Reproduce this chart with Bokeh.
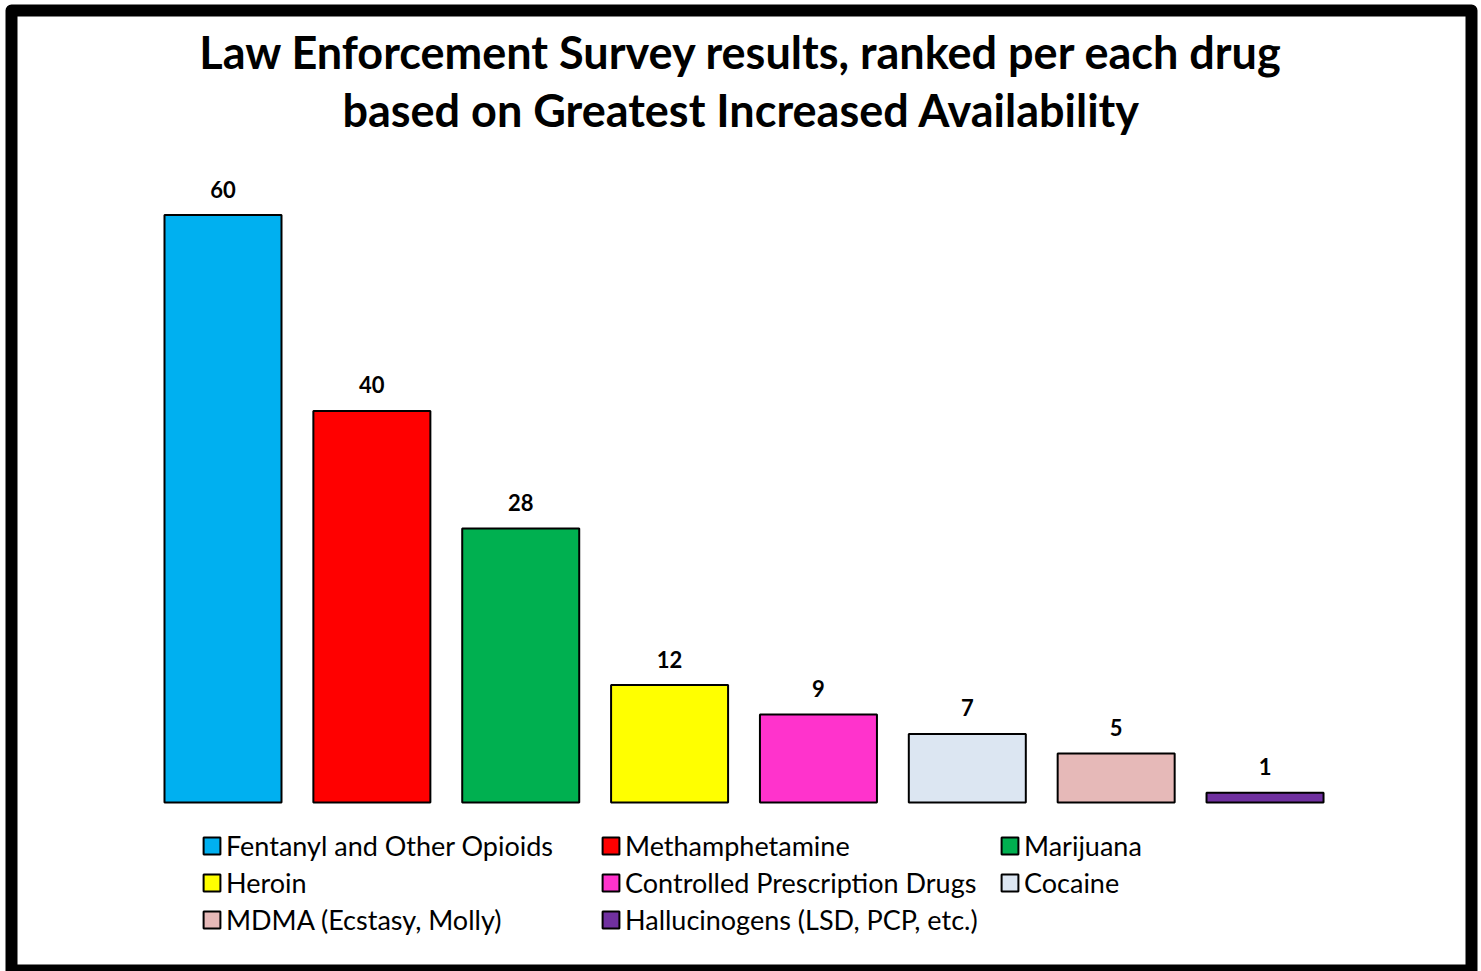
from bokeh.plotting import figure
from bokeh.models import ColumnDataSource, Range1d, Label, Legend, LegendItem
from bokeh.core.properties import value
from bokeh.embed import file_html
from bokeh.resources import INLINE

categories = [
    "Fentanyl and Other Opioids",
    "Methamphetamine",
    "Marijuana",
    "Heroin",
    "Controlled Prescription Drugs",
    "Cocaine",
    "MDMA (Ecstasy, Molly)",
    "Hallucinogens (LSD, PCP, etc.)",
]
counts = [60, 40, 28, 12, 9, 7, 5, 1]
colors = ["#00B0F0", "#FF0000", "#00B050", "#FFFF00", "#FF33CC", "#DCE6F2", "#E6B9B8", "#7030A0"]
title_lines = [
    "Law Enforcement Survey results, ranked per each drug",
    "based on Greatest Increased Availability",
]

src = ColumnDataSource(dict(
    x=list(range(len(categories))),
    cat=categories,
    val=counts,
    lbl=[str(v) for v in counts],
    color=colors,
))

FONT = "Lato"

p = figure(
    width=1481, height=971,
    output_backend="svg", toolbar_location=None,
    x_range=Range1d(-1.4208, 8.387),
    y_range=Range1d(-17.16, 80.9),
    min_border_left=11, min_border_right=10, min_border_top=10, min_border_bottom=1,
)
p.xaxis.visible = False
p.yaxis.visible = False
p.grid.visible = False
p.outline_line_color = "black"
p.outline_line_width = 12
p.outline_line_join = "round"
p.background_fill_color = "white"
p.border_fill_color = "white"

bars = p.vbar(x="x", top="val", bottom=0, width=0.786, source=src,
              fill_color="color", line_color="black", line_width=2)

p.text(x="x", y="val", text="lbl", source=src,
       text_align="center", text_baseline="middle", y_offset=-26,
       text_font=value(FONT), text_font_style="bold", text_font_size="22px",
       text_color="black")

for i, t in enumerate(title_lines):
    p.add_layout(Label(x=741 - 11, y=970 - 51 - 58 * i, x_units="screen", y_units="screen",
                       text=t, text_align="center", text_baseline="middle",
                       text_font=FONT, text_font_style="bold", text_font_size="45px",
                       text_color="black"))

# legend fills column by column; order items so rows read like the reference
ncols = 3
nrows = -(-len(categories) // ncols)
order = [r * ncols + c for c in range(ncols) for r in range(nrows) if r * ncols + c < len(categories)]
items = [LegendItem(label=categories[i], renderers=[bars], index=i) for i in order]

lg = Legend(items=items)
lg.ncols = ncols
lg.location = (190, 34)
lg.padding = 0
lg.margin = 0
lg.spacing = 4
lg.border_line_alpha = 0
lg.background_fill_alpha = 0
lg.glyph_width = 21
lg.glyph_height = 21
lg.label_standoff = 4
lg.label_width = 370
lg.label_height = 30
lg.label_text_font = FONT
lg.label_text_font_size = "27px"
lg.label_text_color = "black"
p.add_layout(lg, "center")

open("out.html", "w").write(file_html(p, INLINE))
